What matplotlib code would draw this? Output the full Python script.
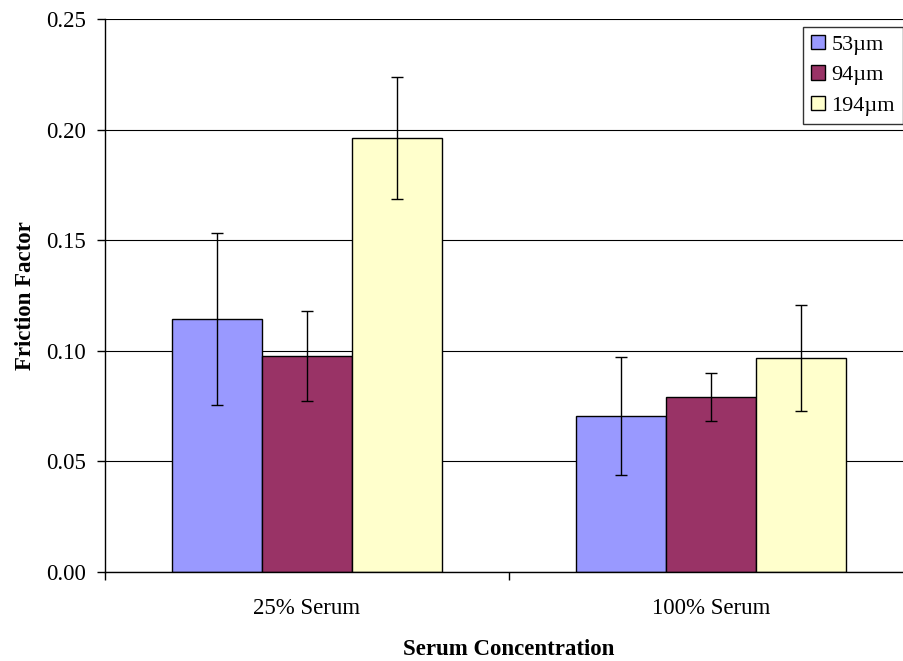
import matplotlib
matplotlib.use("Agg")
import matplotlib.pyplot as plt
import numpy as np

categories = ["25% Serum", "100% Serum"]
series_names = ["53\u00b5m", "94\u00b5m", "194\u00b5m"]
vals_53 = [0.1144, 0.0705]
vals_94 = [0.0976, 0.0791]
vals_194 = [0.1962, 0.0967]
err_53 = [0.039, 0.0265]
err_94 = [0.0205, 0.0107]
err_194 = [0.0274, 0.0238]
colors = ["#9999FF", "#993366", "#FFFFCC"]
yticks = [0.00, 0.05, 0.10, 0.15, 0.20, 0.25]

plt.rcParams['font.family'] = ['Liberation Serif', 'DejaVu Serif']
FS = 16.5

fig = plt.figure(figsize=(9.04, 6.61), dpi=100)
ax = fig.add_axes([105/904, 1-572/661, 808/904, (572-19)/661])

x = np.arange(len(categories))
w = 0.222
for i, (v, e, c, n) in enumerate(zip([vals_53, vals_94, vals_194],
                                      [err_53, err_94, err_194], colors, series_names)):
    ax.bar(x + (i-1)*w, v, w, color=c, edgecolor='black', linewidth=1.0, label=n, zorder=2)
    ax.errorbar(x + (i-1)*w, v, yerr=e, fmt='none', ecolor='black', elinewidth=1.0,
                capsize=4, capthick=1.0, zorder=3)

ax.set_xlim(-0.5, 1.5)
ax.set_ylim(0, 0.25)
ax.set_yticks(yticks)
ax.set_yticklabels([f"{t:.2f}" for t in yticks])
ax.set_xticks([-0.5, 0.5, 1.5], minor=False)
ax.set_xticklabels([])
ax.set_xticks(x, minor=True)
ax.set_xticklabels(categories, minor=True)
ax.tick_params(axis='x', which='minor', length=0, pad=19, labelsize=FS)
ax.tick_params(axis='x', which='major', length=6, direction='out', width=1.0)
ax.tick_params(axis='y', length=6, direction='out', width=1.0, labelsize=FS, pad=8)

ax.yaxis.grid(True, color='black', linewidth=0.8, zorder=0)
ax.set_axisbelow(True)
for s in ['top', 'right']:
    ax.spines[s].set_visible(False)
ax.spines['left'].set_linewidth(1.0)
ax.spines['bottom'].set_linewidth(1.0)

ax.set_xlabel("Serum Concentration", fontsize=FS, fontweight='bold', labelpad=14)
ax.set_ylabel("Friction Factor", fontsize=FS, fontweight='bold', labelpad=7)

LFS = 16
leg = ax.legend(loc='upper left', bbox_to_anchor=(803/904, 1-27/661), bbox_transform=fig.transFigure,
                fontsize=LFS, frameon=True, fancybox=False, edgecolor='black',
                handlelength=0.63, handleheight=0.63, handletextpad=0.3, borderpad=0.35,
                labelspacing=0.47, borderaxespad=0)
leg.get_frame().set_linewidth(1.0)

fig.savefig("out.png", dpi=100)
